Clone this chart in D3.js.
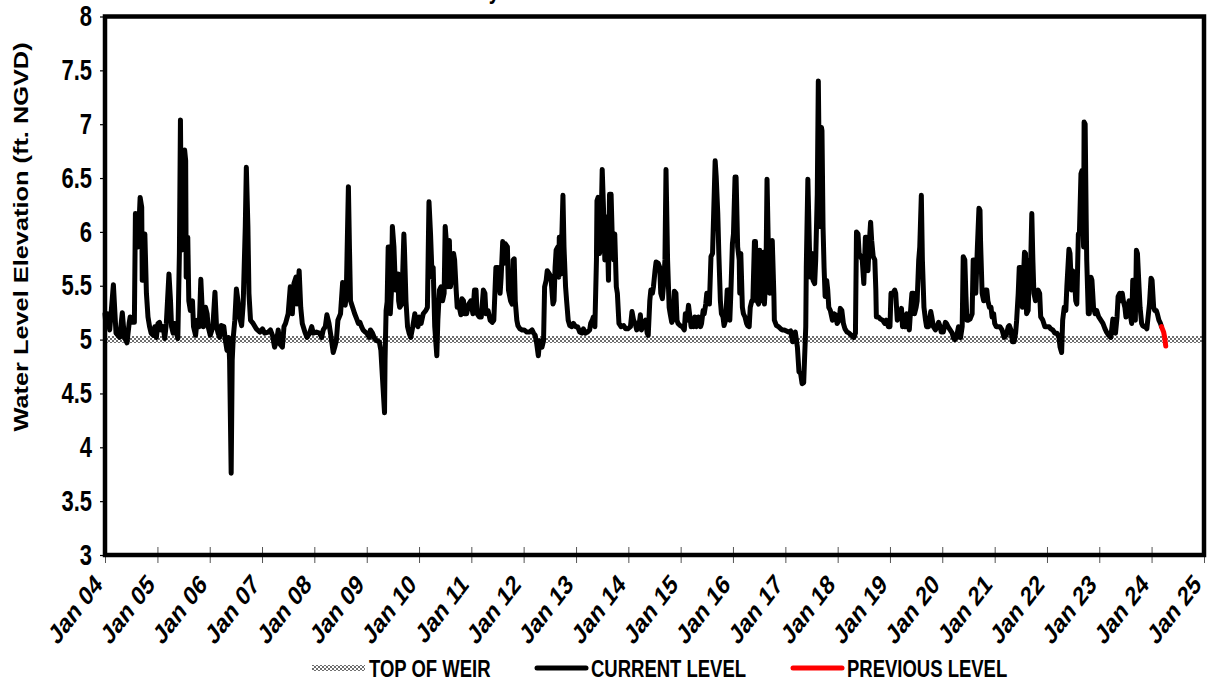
<!DOCTYPE html>
<html><head><meta charset="utf-8">
<script src="https://cdn.jsdelivr.net/npm/d3@7"></script>
<style>
body{margin:0;background:#fff}
svg{display:block}
text{font-family:"Liberation Sans",Arial,Helvetica,sans-serif;font-weight:bold;fill:#000}
</style>
</head><body>
<svg id="chart" width="1212" height="685"></svg>
<script>
// ---------------- DATA ----------------
const chartTitle = "Water Level History";
const yAxisTitle = "Water Level Elevation (ft. NGVD)";
const yearTickLabels = ["Jan 04","Jan 05","Jan 06","Jan 07","Jan 08","Jan 09","Jan 10","Jan 11","Jan 12","Jan 13","Jan 14","Jan 15","Jan 16","Jan 17","Jan 18","Jan 19","Jan 20","Jan 21","Jan 22","Jan 23","Jan 24","Jan 25"];
const levelTicks = [3,3.5,4,4.5,5,5.5,6,6.5,7,7.5,8];
const legendLabels = ["TOP OF WEIR","CURRENT LEVEL","PREVIOUS LEVEL"];

// top of weir (decimal year, ft NGVD)
const weirSeries = [[2004.0,5.0],[2025.0,5.0]];

// current level (decimal year, ft NGVD)
const currentSeries = [
[2004.00,5.24],[2004.02,5.12],[2004.05,5.24],[2004.09,5.09],[2004.16,5.51],[2004.21,5.06],[2004.28,5.02],[2004.33,5.25],[2004.37,5.02],[2004.42,4.97],[2004.46,5.15],[2004.48,5.21],[2004.53,5.16],[2004.56,5.16],[2004.58,6.17],[2004.61,6.14],[2004.63,5.86],[2004.67,6.32],[2004.70,6.23],[2004.71,5.55],[2004.74,5.86],[2004.76,5.98],[2004.79,5.43],[2004.82,5.21],[2004.85,5.12],[2004.88,5.06],[2004.92,5.04],[2004.95,5.12],[2004.98,5.02],
[2005.01,5.15],[2005.04,5.16],[2005.07,5.09],[2005.11,5.12],[2005.14,5.01],[2005.17,5.15],[2005.22,5.61],[2005.25,5.36],[2005.27,5.12],[2005.30,5.06],[2005.33,5.15],[2005.36,5.07],[2005.39,5.01],[2005.42,5.80],[2005.44,7.04],[2005.46,5.83],[2005.49,6.29],[2005.52,6.76],[2005.54,6.66],[2005.55,5.58],[2005.58,5.95],[2005.60,5.36],[2005.63,5.27],[2005.67,5.36],[2005.69,5.12],[2005.73,5.04],[2005.76,5.18],[2005.80,5.12],[2005.83,5.56],[2005.86,5.24],[2005.88,5.12],[2005.92,5.30],[2005.95,5.24],[2005.97,5.12],
[2006.01,5.04],[2006.06,5.12],[2006.10,5.44],[2006.13,5.12],[2006.16,5.06],[2006.19,5.02],[2006.22,5.13],[2006.27,5.12],[2006.30,4.99],[2006.33,4.90],[2006.36,5.02],[2006.38,4.81],[2006.41,3.76],[2006.43,4.81],[2006.45,5.02],[2006.48,5.18],[2006.51,5.47],[2006.54,5.36],[2006.57,5.21],[2006.61,5.13],[2006.64,5.33],[2006.68,6.05],[2006.70,6.60],[2006.73,6.05],[2006.75,5.43],[2006.78,5.18],[2006.83,5.15],[2006.89,5.10],[2006.96,5.07],
[2007.01,5.10],[2007.05,5.06],[2007.12,5.07],[2007.16,5.09],[2007.20,5.04],[2007.24,4.93],[2007.28,4.99],[2007.31,5.09],[2007.34,4.96],[2007.39,4.93],[2007.42,5.12],[2007.45,5.15],[2007.50,5.24],[2007.54,5.49],[2007.58,5.24],[2007.61,5.52],[2007.65,5.58],[2007.67,5.33],[2007.71,5.64],[2007.74,5.30],[2007.77,5.15],[2007.82,5.07],[2007.86,5.02],[2007.91,5.06],[2007.95,5.12],[2007.98,5.06],
[2008.04,5.07],[2008.10,5.06],[2008.14,5.02],[2008.17,5.09],[2008.21,5.12],[2008.24,5.23],[2008.28,5.15],[2008.33,4.99],[2008.36,4.88],[2008.39,4.93],[2008.42,4.99],[2008.45,5.18],[2008.50,5.24],[2008.54,5.53],[2008.56,5.52],[2008.59,5.32],[2008.61,5.43],[2008.65,6.42],[2008.67,5.86],[2008.69,5.36],[2008.73,5.30],[2008.77,5.24],[2008.81,5.19],[2008.84,5.15],[2008.87,5.16],[2008.90,5.12],[2008.93,5.09],[2008.97,5.07],
[2009.00,5.06],[2009.05,5.02],[2009.07,5.09],[2009.11,5.06],[2009.15,5.01],[2009.19,4.99],[2009.24,4.98],[2009.27,4.90],[2009.30,4.65],[2009.34,4.32],[2009.35,4.81],[2009.37,5.27],[2009.39,5.35],[2009.41,5.86],[2009.43,5.86],[2009.45,5.24],[2009.47,5.43],[2009.49,6.05],[2009.52,5.86],[2009.55,5.46],[2009.57,5.61],[2009.60,5.61],[2009.61,5.36],[2009.63,5.30],[2009.67,5.33],[2009.71,5.98],[2009.72,5.86],[2009.75,5.36],[2009.78,5.12],[2009.81,5.06],[2009.84,5.02],[2009.88,5.12],[2009.92,5.24],[2009.94,5.15],[2009.98,5.12],
[2010.00,5.21],[2010.04,5.15],[2010.08,5.24],[2010.13,5.27],[2010.16,5.30],[2010.19,6.28],[2010.22,5.98],[2010.25,5.58],[2010.27,5.67],[2010.30,5.12],[2010.34,4.85],[2010.36,5.18],[2010.39,5.46],[2010.42,5.49],[2010.45,5.36],[2010.48,5.43],[2010.50,6.05],[2010.53,5.86],[2010.55,5.49],[2010.58,5.92],[2010.60,5.49],[2010.63,5.58],[2010.66,5.80],[2010.68,5.74],[2010.71,5.46],[2010.73,5.30],[2010.77,5.30],[2010.80,5.23],[2010.82,5.38],[2010.85,5.36],[2010.87,5.24],[2010.91,5.24],[2010.95,5.33],[2010.99,5.36],
[2011.03,5.24],[2011.06,5.46],[2011.09,5.46],[2011.11,5.24],[2011.15,5.21],[2011.19,5.21],[2011.23,5.46],[2011.26,5.43],[2011.28,5.24],[2011.32,5.27],[2011.36,5.18],[2011.40,5.16],[2011.43,5.18],[2011.47,5.67],[2011.51,5.67],[2011.55,5.43],[2011.57,5.58],[2011.60,5.91],[2011.63,5.71],[2011.65,5.89],[2011.69,5.86],[2011.71,5.46],[2011.75,5.36],[2011.78,5.33],[2011.80,5.74],[2011.82,5.75],[2011.84,5.36],[2011.87,5.18],[2011.89,5.13],[2011.93,5.10],[2011.97,5.09],
[2012.01,5.09],[2012.06,5.07],[2012.11,5.07],[2012.16,5.09],[2012.19,5.06],[2012.22,5.04],[2012.25,4.96],[2012.28,4.85],[2012.30,4.96],[2012.31,4.99],[2012.35,4.93],[2012.38,4.99],[2012.40,5.49],[2012.43,5.55],[2012.45,5.64],[2012.49,5.61],[2012.52,5.58],[2012.56,5.33],[2012.58,5.36],[2012.60,5.67],[2012.62,5.83],[2012.65,5.86],[2012.67,5.58],[2012.68,5.95],[2012.71,5.61],[2012.72,5.80],[2012.75,6.34],[2012.77,5.86],[2012.80,5.49],[2012.82,5.36],[2012.85,5.18],[2012.88,5.13],[2012.92,5.12],[2012.95,5.15],[2012.99,5.12],
[2013.03,5.12],[2013.07,5.07],[2013.11,5.06],[2013.14,5.10],[2013.18,5.06],[2013.22,5.07],[2013.26,5.09],[2013.28,5.15],[2013.31,5.18],[2013.33,5.21],[2013.36,5.12],[2013.39,5.74],[2013.40,6.29],[2013.42,6.32],[2013.45,5.80],[2013.48,6.11],[2013.50,6.58],[2013.53,6.14],[2013.55,5.74],[2013.58,5.98],[2013.59,6.14],[2013.62,5.55],[2013.64,6.35],[2013.67,6.35],[2013.69,5.98],[2013.72,5.74],[2013.74,5.98],[2013.77,5.49],[2013.79,5.43],[2013.82,5.15],[2013.86,5.12],[2013.91,5.13],[2013.95,5.10],[2013.99,5.10],
[2014.04,5.12],[2014.07,5.26],[2014.10,5.18],[2014.13,5.15],[2014.16,5.09],[2014.20,5.12],[2014.23,5.23],[2014.25,5.09],[2014.29,5.15],[2014.33,5.18],[2014.36,5.06],[2014.38,5.04],[2014.41,5.36],[2014.43,5.46],[2014.46,5.43],[2014.48,5.49],[2014.51,5.64],[2014.53,5.72],[2014.57,5.71],[2014.60,5.67],[2014.62,5.43],[2014.65,5.38],[2014.67,5.49],[2014.70,5.74],[2014.72,6.58],[2014.75,5.74],[2014.78,5.30],[2014.80,5.24],[2014.83,5.16],[2014.85,5.18],[2014.88,5.45],[2014.91,5.43],[2014.93,5.18],[2014.95,5.15],[2014.99,5.13],
[2015.03,5.12],[2015.07,5.09],[2015.09,5.24],[2015.12,5.18],[2015.15,5.32],[2015.17,5.24],[2015.20,5.12],[2015.22,5.18],[2015.25,5.12],[2015.27,5.21],[2015.30,5.12],[2015.34,5.21],[2015.38,5.12],[2015.40,5.15],[2015.43,5.27],[2015.45,5.24],[2015.48,5.33],[2015.50,5.43],[2015.53,5.43],[2015.55,5.33],[2015.58,5.77],[2015.61,5.80],[2015.63,6.14],[2015.66,6.66],[2015.68,6.51],[2015.71,6.17],[2015.73,5.80],[2015.76,5.36],[2015.78,5.24],[2015.81,5.21],[2015.83,5.13],[2015.86,5.18],[2015.89,5.46],[2015.91,5.46],[2015.94,5.18],[2015.96,5.43],[2015.99,5.89],
[2016.01,5.98],[2016.04,6.51],[2016.06,6.51],[2016.09,5.86],[2016.12,5.74],[2016.13,5.43],[2016.15,5.80],[2016.18,5.30],[2016.20,5.24],[2016.23,5.21],[2016.26,5.15],[2016.28,5.13],[2016.31,5.12],[2016.33,5.30],[2016.36,5.36],[2016.38,5.36],[2016.41,5.91],[2016.43,5.91],[2016.46,5.36],[2016.49,5.33],[2016.51,5.83],[2016.55,5.36],[2016.58,5.81],[2016.60,5.33],[2016.63,5.61],[2016.65,6.49],[2016.68,5.74],[2016.70,5.43],[2016.73,5.58],[2016.75,5.92],[2016.78,5.43],[2016.79,5.18],[2016.83,5.13],[2016.87,5.12],[2016.91,5.10],[2016.94,5.09],[2016.98,5.09],
[2017.02,5.08],[2017.06,5.07],[2017.10,5.08],[2017.14,4.98],[2017.16,4.99],[2017.19,5.07],[2017.23,4.93],[2017.26,4.70],[2017.29,4.69],[2017.32,4.59],[2017.35,4.60],[2017.39,5.12],[2017.40,5.67],[2017.43,6.49],[2017.46,5.86],[2017.48,5.58],[2017.51,5.80],[2017.53,5.55],[2017.56,5.52],[2017.58,5.74],[2017.61,6.35],[2017.63,7.40],[2017.66,6.05],[2017.69,6.97],[2017.70,6.94],[2017.72,6.05],[2017.74,5.67],[2017.76,5.40],[2017.79,5.55],[2017.81,5.46],[2017.83,5.30],[2017.86,5.27],[2017.90,5.18],[2017.93,5.24],[2017.96,5.23],[2017.99,5.15],
[2018.03,5.18],[2018.05,5.29],[2018.08,5.27],[2018.11,5.15],[2018.14,5.10],[2018.18,5.07],[2018.22,5.06],[2018.26,5.04],[2018.31,5.02],[2018.34,5.06],[2018.36,6.00],[2018.39,5.98],[2018.41,5.80],[2018.44,5.77],[2018.47,5.74],[2018.50,5.52],[2018.53,5.95],[2018.55,5.95],[2018.58,5.64],[2018.60,5.86],[2018.63,6.09],[2018.65,5.92],[2018.68,5.77],[2018.71,5.74],[2018.73,5.46],[2018.74,5.21],[2018.78,5.21],[2018.82,5.19],[2018.86,5.18],[2018.90,5.15],[2018.93,5.18],[2018.97,5.12],
[2019.00,5.12],[2019.02,5.43],[2019.06,5.43],[2019.09,5.46],[2019.11,5.43],[2019.14,5.18],[2019.16,5.27],[2019.19,5.21],[2019.22,5.29],[2019.24,5.12],[2019.27,5.13],[2019.29,5.12],[2019.32,5.24],[2019.34,5.15],[2019.37,5.09],[2019.39,5.24],[2019.42,5.43],[2019.45,5.43],[2019.47,5.24],[2019.50,5.30],[2019.52,5.36],[2019.55,5.74],[2019.57,5.86],[2019.60,6.34],[2019.62,5.74],[2019.65,5.30],[2019.68,5.18],[2019.70,5.12],[2019.74,5.12],[2019.78,5.26],[2019.80,5.21],[2019.83,5.12],[2019.87,5.09],[2019.90,5.12],[2019.93,5.16],[2019.96,5.12],[2019.98,5.07],
[2020.02,5.07],[2020.06,5.16],[2020.08,5.15],[2020.11,5.12],[2020.15,5.09],[2020.19,5.06],[2020.21,5.02],[2020.24,5.00],[2020.27,5.02],[2020.31,5.12],[2020.35,5.02],[2020.38,5.12],[2020.40,5.77],[2020.43,5.74],[2020.45,5.43],[2020.47,5.18],[2020.49,5.18],[2020.53,5.19],[2020.57,5.24],[2020.59,5.74],[2020.62,5.74],[2020.64,5.43],[2020.67,5.86],[2020.70,6.22],[2020.72,6.20],[2020.73,5.92],[2020.76,5.43],[2020.79,5.36],[2020.82,5.46],[2020.85,5.46],[2020.87,5.36],[2020.90,5.30],[2020.93,5.30],[2020.95,5.21],[2020.98,5.24],
[2021.00,5.15],[2021.03,5.12],[2021.07,5.12],[2021.10,5.12],[2021.14,5.09],[2021.18,5.02],[2021.22,5.04],[2021.26,5.12],[2021.28,5.13],[2021.31,5.09],[2021.34,4.98],[2021.37,4.98],[2021.40,5.06],[2021.42,5.18],[2021.45,5.43],[2021.47,5.67],[2021.50,5.67],[2021.53,5.30],[2021.55,5.58],[2021.57,5.81],[2021.59,5.80],[2021.61,5.24],[2021.64,5.27],[2021.67,5.74],[2021.69,5.74],[2021.71,6.17],[2021.73,5.74],[2021.75,5.43],[2021.78,5.36],[2021.81,5.43],[2021.83,5.46],[2021.86,5.43],[2021.88,5.21],[2021.92,5.18],[2021.96,5.12],
[2022.00,5.12],[2022.04,5.12],[2022.07,5.10],[2022.11,5.09],[2022.15,5.06],[2022.19,5.06],[2022.23,5.02],[2022.25,4.93],[2022.28,4.88],[2022.30,5.18],[2022.33,5.30],[2022.36,5.27],[2022.38,5.49],[2022.42,5.84],[2022.44,5.80],[2022.47,5.46],[2022.49,5.64],[2022.52,5.61],[2022.55,5.36],[2022.57,5.33],[2022.60,5.98],[2022.62,5.98],[2022.65,6.54],[2022.67,6.57],[2022.70,5.86],[2022.71,7.02],[2022.73,7.00],[2022.75,6.11],[2022.76,5.74],[2022.79,5.24],[2022.81,5.24],[2022.84,5.58],[2022.86,5.55],[2022.89,5.30],[2022.92,5.24],[2022.95,5.27],[2022.99,5.21],
[2023.03,5.18],[2023.07,5.15],[2023.11,5.10],[2023.14,5.07],[2023.18,5.04],[2023.22,5.02],[2023.26,5.19],[2023.29,5.18],[2023.31,5.06],[2023.34,5.21],[2023.36,5.40],[2023.39,5.43],[2023.41,5.36],[2023.44,5.43],[2023.46,5.36],[2023.49,5.30],[2023.51,5.21],[2023.54,5.30],[2023.57,5.36],[2023.59,5.24],[2023.62,5.15],[2023.64,5.55],[2023.67,5.55],[2023.69,5.18],[2023.71,5.83],[2023.73,5.80],[2023.76,5.49],[2023.78,5.30],[2023.81,5.15],[2023.83,5.13],[2023.86,5.12],[2023.88,5.12],[2023.91,5.10],[2023.94,5.24],[2023.96,5.33],[2023.99,5.57],
[2024.01,5.55],[2024.04,5.30],[2024.06,5.27],[2024.09,5.27],[2024.11,5.24],[2024.14,5.18],[2024.17,5.15],[2024.19,5.12]
];

// previous level (decimal year, ft NGVD)
const previousSeries = [[2024.19,5.12],[2024.23,5.07],[2024.25,5.02],[2024.27,4.94]];

// ---------------- CHART ----------------
const STRETCH = 1.3;
const FONT = '"Liberation Sans",Arial,Helvetica,sans-serif';
const svg = d3.select("#chart");
const plot = {left:105, right:1204, top:16.5, bottom:555};

function yearToDate(dy){
  const yr = Math.floor(dy);
  const start = Date.UTC(yr,0,1), end = Date.UTC(yr+1,0,1);
  return new Date(start + (dy-yr)*(end-start));
}

const x = d3.scaleUtc()
  .domain([yearToDate(2004), yearToDate(2025)])
  .range([plot.left, plot.right]);
const y = d3.scaleLinear()
  .domain([3, 8])
  .range([plot.bottom, plot.top]);

// checker pattern for weir
const defs = svg.append("defs");
const pat = defs.append("pattern").attr("id","checker")
  .attr("patternUnits","userSpaceOnUse").attr("width",4).attr("height",4);
pat.append("rect").attr("width",4).attr("height",4).attr("fill","#ffffff");
pat.append("rect").attr("x",0).attr("y",0).attr("width",2).attr("height",2).attr("fill","#6e6e6e");
pat.append("rect").attr("x",2).attr("y",2).attr("width",2).attr("height",2).attr("fill","#6e6e6e");

// title (mostly above the visible area, as in the reference)
svg.append("text")
  .attr("transform", `translate(500,-1) scale(1,${STRETCH})`)
  .attr("text-anchor","end")
  .style("font-size","20px")
  .text(chartTitle);

// y axis
const yAxis = d3.axisLeft(y).tickValues(levelTicks)
  .tickFormat(d => String(d)).tickSize(5).tickPadding(8);
const gy = svg.append("g").attr("transform",`translate(${plot.left},0)`).call(yAxis);
gy.select(".domain").remove();
gy.selectAll(".tick line").attr("stroke","#000").attr("stroke-width",1.2);
gy.selectAll(".tick text")
  .attr("transform",`scale(1,${STRETCH})`)
  .style("font-size","22px").style("font-family",FONT).style("font-weight","bold")
  .attr("fill","#000");

// x axis
const xAxis = d3.axisBottom(x)
  .tickValues(yearTickLabels.map((_,i)=>yearToDate(2004+i)))
  .tickFormat((d,i)=>yearTickLabels[i]).tickSize(8);
const gx = svg.append("g").attr("transform",`translate(0,${plot.bottom})`).call(xAxis);
gx.select(".domain").remove();
gx.selectAll(".tick line").attr("y1",-8).attr("y2",8).attr("stroke","#555").attr("stroke-width",1);
gx.selectAll(".tick text")
  .attr("y",0).attr("dy","0")
  .attr("text-anchor","end")
  .attr("transform",`translate(-2,31) scale(1,${STRETCH}) rotate(-45)`)
  .style("font-size","21px").style("font-family",FONT).style("font-weight","bold")
  .attr("fill","#000");

// y axis title
svg.append("text")
  .attr("transform",`translate(28,237) scale(1,${STRETCH}) rotate(-90)`)
  .attr("text-anchor","middle")
  .style("font-size","19.5px")
  .text(yAxisTitle);

const line = d3.line()
  .x(d => x(yearToDate(d[0])))
  .y(d => y(d[1]))
  .curve(d3.curveLinear);

const g = svg.append("g");
g.append("path").datum(weirSeries)
  .attr("d",line).attr("fill","none")
  .attr("stroke","url(#checker)").attr("stroke-width",7);

g.append("path").datum(currentSeries)
  .attr("d",line).attr("fill","none")
  .attr("stroke","#000").attr("stroke-width",5)
  .attr("stroke-linejoin","round").attr("stroke-linecap","round");

g.append("path").datum(previousSeries)
  .attr("d",line).attr("fill","none")
  .attr("stroke","#ff0000").attr("stroke-width",5)
  .attr("stroke-linejoin","round").attr("stroke-linecap","round");

// frame
svg.append("rect")
  .attr("x",plot.left).attr("y",plot.top)
  .attr("width",plot.right-plot.left).attr("height",plot.bottom-plot.top)
  .attr("fill","none").attr("stroke","#000").attr("stroke-width",4.5);

// legend
const legY = 668;
const legItems = [
  {label:legendLabels[0], sx:312, tx:369, type:"weir"},
  {label:legendLabels[1], sx:535, tx:591, type:"current"},
  {label:legendLabels[2], sx:791, tx:847, type:"previous"}
];
const lg = svg.append("g");
legItems.forEach(it=>{
  if(it.type==="weir"){
    lg.append("rect").attr("x",it.sx).attr("y",legY-3).attr("width",53).attr("height",6).attr("fill","url(#checker)");
  } else {
    lg.append("line").attr("x1",it.sx+2).attr("x2",it.sx+51).attr("y1",legY).attr("y2",legY)
      .attr("stroke", it.type==="current" ? "#000" : "#ff0000")
      .attr("stroke-width",5).attr("stroke-linecap","round");
  }
  lg.append("text")
    .attr("transform",`translate(${it.tx},${legY}) scale(1,${STRETCH})`)
    .attr("dy","0.36em")
    .style("font-size","18.5px")
    .text(it.label);
});
</script>
</body></html>
